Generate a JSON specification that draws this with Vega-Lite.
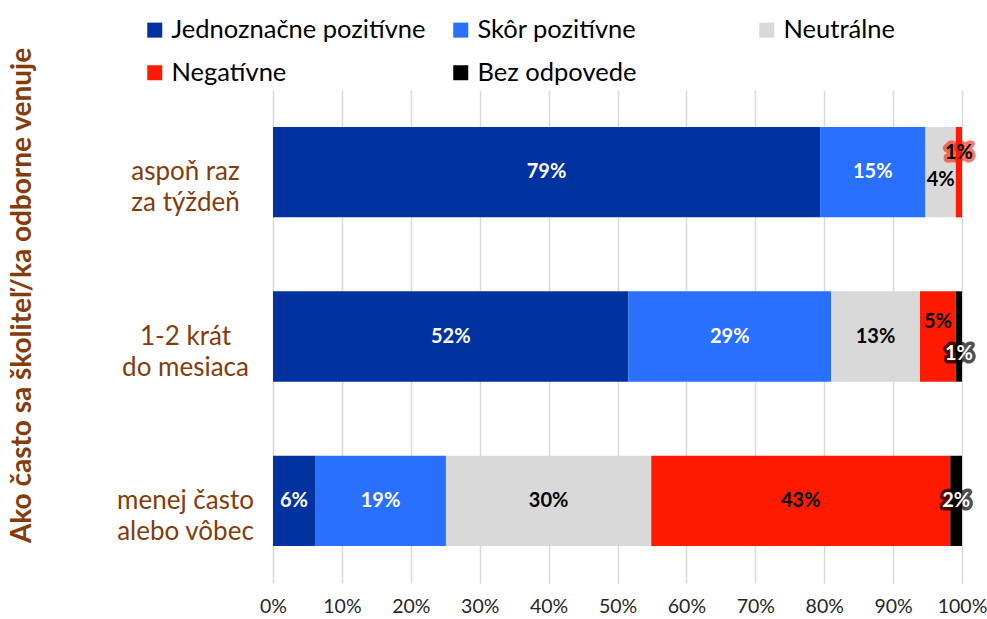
{
  "$schema": "https://vega.github.io/schema/vega-lite/v6.json",
  "width": 689,
  "height": 493,
  "autosize": {"type": "none"},
  "padding": {"left": 273, "top": 90, "right": 25, "bottom": 36},
  "background": "white",
  "config": {
    "font": "Lato",
    "view": {"stroke": null},
    "axisX": {"labelFontSize": 19.5, "labelColor": "#262626", "ticks": false, "domain": false, "grid": true, "gridColor": "#d9d9d9", "gridWidth": 1.5, "labelPadding": 14, "labelFlush": false, "labelOverlap": false, "labelFont": "Lato"},
    "axisY": {"labelFontSize": 26, "labelColor": "#843C0C", "labelLineHeight": 31, "ticks": false, "domain": false, "grid": false, "labelAlign": "center", "labelBaseline": "middle", "labelPadding": 88, "labelLimit": 300, "titleFontSize": 28, "titleFontWeight": "bold", "titleColor": "#843C0C", "titleAngle": 270, "titleX": -251, "titleY": 205, "titleAlign": "center", "titleBaseline": "middle", "labelFont": "Lato", "titleFont": "Lato"}
  },
  "data": {
    "values": [
      {"cat": "aspoň raz za týždeň", "s": "Jednoznačne pozitívne", "k": 1, "v": 0.794},
      {"cat": "aspoň raz za týždeň", "s": "Skôr pozitívne", "k": 2, "v": 0.153},
      {"cat": "aspoň raz za týždeň", "s": "Neutrálne", "k": 3, "v": 0.044},
      {"cat": "aspoň raz za týždeň", "s": "Negatívne", "k": 4, "v": 0.009},
      {"cat": "aspoň raz za týždeň", "s": "Bez odpovede", "k": 5, "v": 0},
      {"cat": "1-2 krát do mesiaca", "s": "Jednoznačne pozitívne", "k": 1, "v": 0.516},
      {"cat": "1-2 krát do mesiaca", "s": "Skôr pozitívne", "k": 2, "v": 0.294},
      {"cat": "1-2 krát do mesiaca", "s": "Neutrálne", "k": 3, "v": 0.129},
      {"cat": "1-2 krát do mesiaca", "s": "Negatívne", "k": 4, "v": 0.052},
      {"cat": "1-2 krát do mesiaca", "s": "Bez odpovede", "k": 5, "v": 0.009},
      {"cat": "menej často alebo vôbec", "s": "Jednoznačne pozitívne", "k": 1, "v": 0.061},
      {"cat": "menej často alebo vôbec", "s": "Skôr pozitívne", "k": 2, "v": 0.19},
      {"cat": "menej často alebo vôbec", "s": "Neutrálne", "k": 3, "v": 0.298},
      {"cat": "menej často alebo vôbec", "s": "Negatívne", "k": 4, "v": 0.434},
      {"cat": "menej často alebo vôbec", "s": "Bez odpovede", "k": 5, "v": 0.017}
    ]
  },
  "encoding": {
    "y": {
      "field": "cat", "type": "nominal",
      "sort": ["aspoň raz za týždeň", "1-2 krát do mesiaca", "menej často alebo vôbec"],
      "scale": {"paddingInner": 0.45, "paddingOuter": 0.225},
      "axis": {"title": "Ako často sa školiteľ/ka odborne venuje", "labelExpr": "datum.value == 'aspoň raz za týždeň' ? ['aspoň raz', 'za týždeň'] : datum.value == '1-2 krát do mesiaca' ? ['1-2 krát', 'do mesiaca'] : ['menej často', 'alebo vôbec']"}
    },
    "order": {"field": "k", "type": "quantitative"}
  },
  "layer": [
    {
      "mark": {"type": "bar"},
      "encoding": {
        "x": {"field": "v", "type": "quantitative", "stack": "zero", "title": null, "scale": {"domain": [0, 1]}, "axis": {"format": ".0%", "values": [0, 0.1, 0.2, 0.3, 0.4, 0.5, 0.6, 0.7, 0.8, 0.9, 1]}},
        "color": {"field": "s", "type": "nominal",
          "scale": {"domain": ["Jednoznačne pozitívne", "Skôr pozitívne", "Neutrálne", "Negatívne", "Bez odpovede"], "range": ["#0033A0", "#2A70FF", "#D9D9D9", "#FF1A00", "#000000"]},
          "legend": {"title": null, "orient": "none", "direction": "horizontal", "legendX": -131, "legendY": -73, "columns": 3, "gridAlign": "all", "symbolType": "square", "symbolSize": 225, "symbolStrokeWidth": 0, "labelFontSize": 25.5, "labelColor": "#000000", "rowPadding": 16, "columnPadding": 22, "labelOffset": 4, "labelLimit": 400, "padding": 0, "labelFont": "Lato"}}
      }
    },
    {
      "encoding": {
        "x": {"field": "v", "type": "quantitative", "stack": "zero", "bandPosition": 0.5, "title": null},
        "stroke": {"field": "s", "type": "nominal", "legend": null, "scale": {"domain": ["Jednoznačne pozitívne", "Skôr pozitívne", "Neutrálne", "Negatívne", "Bez odpovede"], "range": ["#0033A0", "#2A70FF", "#D9D9D9", "#FF1A00", "#000000"]}},
        "fill": {"field": "s", "type": "nominal", "legend": null, "scale": {"domain": ["Jednoznačne pozitívne", "Skôr pozitívne", "Neutrálne", "Negatívne", "Bez odpovede"], "range": ["#ffffff", "#ffffff", "#000000", "#000000", "#ffffff"]}}
      },
      "layer": [
        {"mark": {"type": "text", "fontSize": 20, "fontWeight": "bold", "strokeWidth": 7, "strokeOpacity": 0.7, "strokeJoin": "round", "fillOpacity": 0, "dy": 0},
         "encoding": {"text": {"condition": {"test": "datum.v > 0 && !(datum.cat == 'aspoň raz za týždeň' && (datum.s == 'Neutrálne' || datum.s == 'Negatívne')) && !(datum.cat == '1-2 krát do mesiaca' && (datum.s == 'Negatívne' || datum.s == 'Bez odpovede'))", "field": "v", "type": "quantitative", "format": ".0%"}, "value": ""}}},
        {"mark": {"type": "text", "fontSize": 20, "fontWeight": "bold", "strokeWidth": 0, "dy": 0},
         "encoding": {"text": {"condition": {"test": "datum.v > 0 && !(datum.cat == 'aspoň raz za týždeň' && (datum.s == 'Neutrálne' || datum.s == 'Negatívne')) && !(datum.cat == '1-2 krát do mesiaca' && (datum.s == 'Negatívne' || datum.s == 'Bez odpovede'))", "field": "v", "type": "quantitative", "format": ".0%"}, "value": ""}}},
        {"mark": {"type": "text", "fontSize": 20, "fontWeight": "bold", "strokeWidth": 0, "dy": 8},
         "encoding": {"text": {"condition": {"test": "datum.cat == 'aspoň raz za týždeň' && datum.s == 'Neutrálne'", "field": "v", "type": "quantitative", "format": ".0%"}, "value": ""}}},
        {"mark": {"type": "text", "fontSize": 20, "fontWeight": "bold", "strokeWidth": 7, "strokeOpacity": 0.6, "strokeJoin": "round", "fillOpacity": 0, "dy": -19},
         "encoding": {"text": {"condition": {"test": "datum.cat == 'aspoň raz za týždeň' && datum.s == 'Negatívne'", "field": "v", "type": "quantitative", "format": ".0%"}, "value": ""}}},
        {"mark": {"type": "text", "fontSize": 20, "fontWeight": "bold", "strokeWidth": 0, "dy": -19},
         "encoding": {"text": {"condition": {"test": "datum.cat == 'aspoň raz za týždeň' && datum.s == 'Negatívne'", "field": "v", "type": "quantitative", "format": ".0%"}, "value": ""}}},
        {"mark": {"type": "text", "fontSize": 20, "fontWeight": "bold", "strokeWidth": 0, "dy": -15},
         "encoding": {"text": {"condition": {"test": "datum.cat == '1-2 krát do mesiaca' && datum.s == 'Negatívne'", "field": "v", "type": "quantitative", "format": ".0%"}, "value": ""}}},
        {"mark": {"type": "text", "fontSize": 20, "fontWeight": "bold", "strokeWidth": 7, "strokeOpacity": 0.7, "strokeJoin": "round", "fillOpacity": 0, "dy": 17},
         "encoding": {"text": {"condition": {"test": "datum.cat == '1-2 krát do mesiaca' && datum.s == 'Bez odpovede'", "field": "v", "type": "quantitative", "format": ".0%"}, "value": ""}}},
        {"mark": {"type": "text", "fontSize": 20, "fontWeight": "bold", "strokeWidth": 0, "dy": 17},
         "encoding": {"text": {"condition": {"test": "datum.cat == '1-2 krát do mesiaca' && datum.s == 'Bez odpovede'", "field": "v", "type": "quantitative", "format": ".0%"}, "value": ""}}}
      ]
    }
  ]
}
